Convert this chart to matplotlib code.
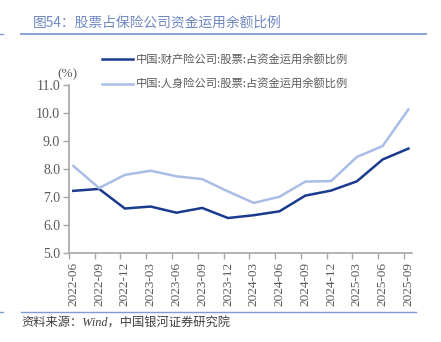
import matplotlib
matplotlib.use("Agg")
import matplotlib.pyplot as plt
from matplotlib.lines import Line2D
import numpy as np

# Quarter labels and the two series (percent)
quarters = ["2022-06", "2022-09", "2022-12", "2023-03", "2023-06", "2023-09", "2023-12",
            "2024-03", "2024-06", "2024-09", "2024-12", "2025-03", "2025-06", "2025-09"]
property_ins = [7.23, 7.30, 6.60, 6.67, 6.45, 6.62, 6.26, 6.36, 6.50, 7.06, 7.24, 7.57, 8.35, 8.74]
life_ins = [8.12, 7.33, 7.80, 7.95, 7.75, 7.65, 7.21, 6.80, 7.02, 7.56, 7.58, 8.44, 8.83, 10.14]
series_names = ["中国:财产险公司:股票:占资金运用余额比例", "中国:人身险公司:股票:占资金运用余额比例"]
yticks = [5.0, 6.0, 7.0, 8.0, 9.0, 10.0, 11.0]

title = "图54：股票占保险公司资金运用余额比例"
source = "资料来源：Wind，中国银河证券研究院"

CJK = ["Noto Sans CJK SC", "DejaVu Sans"]
SERIF = ["Liberation Serif", "Noto Sans CJK SC"]
plt.rcParams["font.family"] = CJK

W, H = 441, 342
fig = plt.figure(figsize=(W / 100, H / 100), dpi=100)

def fx(px):
    return px / W

def fy(py):
    return 1 - py / H

dark = "#1a3a8f"
light = "#a9bde6"
axis_gray = "#a6a6a6"
text_gray = "#595959"

ax = fig.add_axes([fx(68.5), fy(253.3), fx(412) - fx(68.5), fy(85.3) - fy(253.3)])
x = np.arange(len(quarters))
ax.plot(x, property_ins, color=dark, lw=1.8, solid_joinstyle="miter")
ax.plot(x, life_ins, color=light, lw=1.8, solid_joinstyle="miter")

ax.set_ylim(5, 11)
ax.set_xlim(-0.186, len(quarters) - 1 + 0.14)
ax.set_yticks(yticks)
ax.set_yticklabels([f"{v:.1f}" for v in yticks], fontfamily=SERIF, fontsize=10, color=text_gray)
ax.set_xticks(x)
ax.set_xticklabels(quarters, rotation=90, fontfamily=SERIF, fontsize=9.5, color=text_gray)
ax.tick_params(axis="x", length=0, pad=6)
ax.set_xticks(x - 0.17, minor=True)
ax.tick_params(axis="x", which="minor", length=4, direction="out", color=axis_gray, width=1)
ax.tick_params(axis="y", length=4, direction="out", color=axis_gray, width=1, pad=2)

for s in ["top", "right"]:
    ax.spines[s].set_visible(False)
for s in ["left", "bottom"]:
    ax.spines[s].set_color(axis_gray)
    ax.spines[s].set_linewidth(1.2)

fig.text(fx(57), fy(74), "(%)", fontfamily=SERIF, fontsize=9.5, color=text_gray, va="center", ha="left")

# Legend drawn as lines + labels
for i, (name, c) in enumerate(zip(series_names, [dark, light])):
    yy = fy(59.3 + 25 * i)
    fig.add_artist(Line2D([fx(101.5), fx(133)], [yy, yy], color=c, lw=1.8))
    fig.text(fx(136), yy, name, fontsize=8.1, color=text_gray, va="center", ha="left")

# Header and footer
fig.text(fx(33), fy(22.5), title, fontsize=9.9, color="#6d87c2", va="center", ha="left")
rule = "#7f9bd2"
fig.add_artist(Line2D([fx(21), fx(426)], [fy(34.3), fy(34.3)], color=rule, lw=1.3))
fig.add_artist(Line2D([fx(0), fx(3)], [fy(34.3), fy(34.3)], color=rule, lw=1.0))
fig.add_artist(Line2D([fx(21), fx(416)], [fy(312.3), fy(312.3)], color=rule, lw=1.0))
fig.add_artist(Line2D([fx(0), fx(3)], [fy(312.3), fy(312.3)], color=rule, lw=1.0))
fig.text(fx(21), fy(324), source, fontsize=8.8, color="#404040", va="center", ha="left",
         style="italic", fontfamily=SERIF)

fig.savefig("out.png", dpi=100)
